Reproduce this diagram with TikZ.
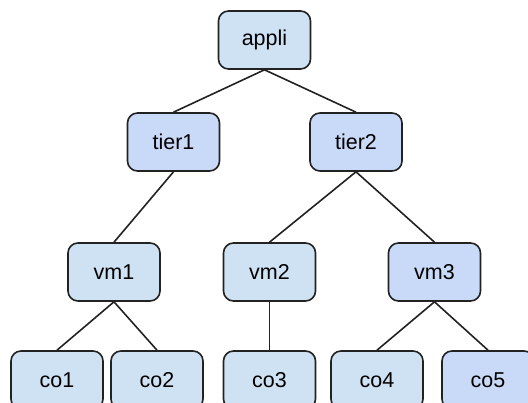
\documentclass[tikz,border=0pt]{standalone}
\usepackage{fontspec}
\setmainfont{Liberation Sans}
\usetikzlibrary{positioning}
\definecolor{lblue}{HTML}{CFE2F3}
\definecolor{cblue}{HTML}{C9DAF8}
\definecolor{edge}{HTML}{222222}

\begin{document}
\begin{tikzpicture}[x=1pt, y=-1pt,
  box/.style={draw=edge, line width=1.6pt, rounded corners=10pt, fill=lblue,
              font=\fontsize{21.5}{25}\selectfont, minimum width=92pt, minimum height=58pt,
              inner sep=0pt},
  dark/.style={box, fill=cblue},
  link/.style={edge, line width=1.6pt}
]
\useasboundingbox (0,0) rectangle (528,403);
\node[box]  (appli) at (264.5, 40) {appli};
\node[dark] (tier1) at (173.5,142) {tier1};
\node[dark] (tier2) at (356,  142) {tier2};
\node[box]  (vm1)   at (114,  272) {vm1};
\node[box]  (vm2)   at (269.5,272) {vm2};
\node[dark] (vm3)   at (434.5,272) {vm3};
\node[box]  (co1)   at (57,   380) {co1};
\node[box]  (co2)   at (157,  380) {co2};
\node[box]  (co3)   at (269.5,380) {co3};
\node[box]  (co4)   at (377,  380) {co4};
\node[dark] (co5)   at (488,  380) {co5};
\draw[link] (appli.south)--(tier1.north); \draw[link] (appli.south)--(tier2.north);
\draw[link] (tier1.south)--(vm1.north);
\draw[link] (tier2.south)--(vm2.north);  \draw[link] (tier2.south)--(vm3.north);
\draw[link] (vm1.south)--(co1.north);    \draw[link] (vm1.south)--(co2.north);
\draw[link] (vm2.south)--(co3.north);
\draw[link] (vm3.south)--(co4.north);    \draw[link] (vm3.south)--(co5.north);
\end{tikzpicture}
\end{document}
